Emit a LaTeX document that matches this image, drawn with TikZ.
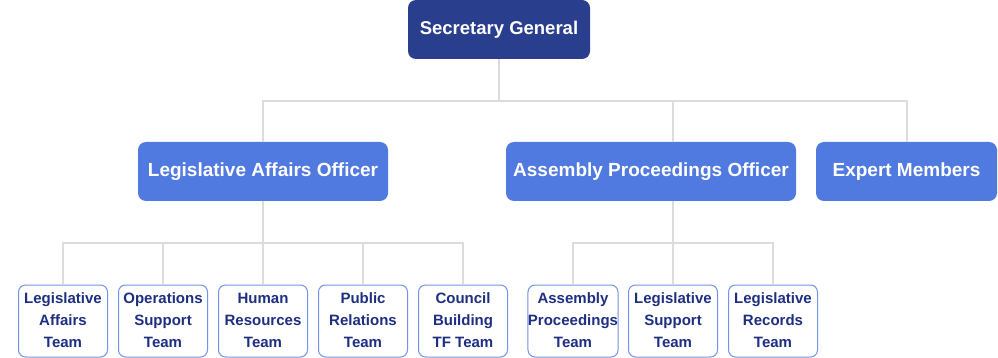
\documentclass[tikz,border=0pt]{standalone}
\usepackage{fontspec}
\setmainfont{Liberation Sans}
\usepackage{tikz}
\usetikzlibrary{positioning}

\definecolor{navy}{HTML}{2A3E8E}
\definecolor{midblue}{HTML}{517AE0}
\definecolor{teamtext}{HTML}{1E2F82}
\definecolor{teamline}{HTML}{7593E4}
\definecolor{linkgray}{HTML}{DCDCDC}

\begin{document}
\begin{tikzpicture}[x=1pt, y=-1pt,
    head/.style={rectangle, rounded corners=8pt, fill=navy, text=white, font=\fontsize{18.5}{22}\selectfont\bfseries, minimum width=182pt, minimum height=59pt, inner sep=0pt},
    officer/.style={rectangle, rounded corners=8pt, fill=midblue, text=white, font=\fontsize{19}{22}\selectfont\bfseries, minimum height=59pt, inner sep=0pt},
    team/.style={rectangle, rounded corners=7pt, draw=teamline, line width=1pt, fill=white, text=teamtext, font=\fontsize{15}{22}\selectfont\bfseries, align=center, minimum width=89pt, minimum height=72pt, inner sep=0pt},
    link/.style={draw=linkgray, line width=2pt}]
    \useasboundingbox (0,0) rectangle (998,358);

    \node[head] (sg) at (499,29.5) {Secretary General};
    \node[officer, minimum width=250pt] (lao) at (263,171.5) {Legislative Affairs Officer};
    \node[officer, minimum width=290pt] (apo) at (651,171.5) {Assembly Proceedings Officer};
    \node[officer, minimum width=181pt] (em) at (906.5,171.5) {Expert Members};

    \node[team] (t1) at (63,321) {\strut Legislative\\Affairs\\Team\strut};
    \node[team] (t2) at (163,321) {\strut Operations\\Support\\Team\strut};
    \node[team] (t3) at (263,321) {\strut Human\\Resources\\Team\strut};
    \node[team] (t4) at (363,321) {\strut Public\\Relations\\Team\strut};
    \node[team] (t5) at (463,321) {\strut Council\\Building\\TF Team\strut};
    \node[team] (t6) at (573,321) {\strut Assembly\\Proceedings\\Team\strut};
    \node[team] (t7) at (673,321) {\strut Legislative\\Support\\Team\strut};
    \node[team] (t8) at (773,321) {\strut Legislative\\Records\\Team\strut};

    \coordinate (bus0) at (499,101);
    \coordinate (bus1) at (263,243);
    \coordinate (bus2) at (673,243);
    \coordinate (apoin) at (673,142);
    \coordinate (apoout) at (673,201);

    \begin{scope}[on background layer/.try]
    \draw[link] (sg) -- (bus0);
    \draw[link] (bus0) -| (lao.north);
    \draw[link] (bus0) -| (apoin);
    \draw[link] (bus0) -| (em.north);

    \draw[link] (lao) -- (bus1);
    \draw[link] (bus1) -| (t1.north);
    \draw[link] (bus1) -| (t2.north);
    \draw[link] (bus1) -- (t3.north);
    \draw[link] (bus1) -| (t4.north);
    \draw[link] (bus1) -| (t5.north);

    \draw[link] (apoout) -- (bus2);
    \draw[link] (bus2) -| (t6.north);
    \draw[link] (bus2) -- (t7.north);
    \draw[link] (bus2) -| (t8.north);
    \end{scope}
\end{tikzpicture}
\end{document}
